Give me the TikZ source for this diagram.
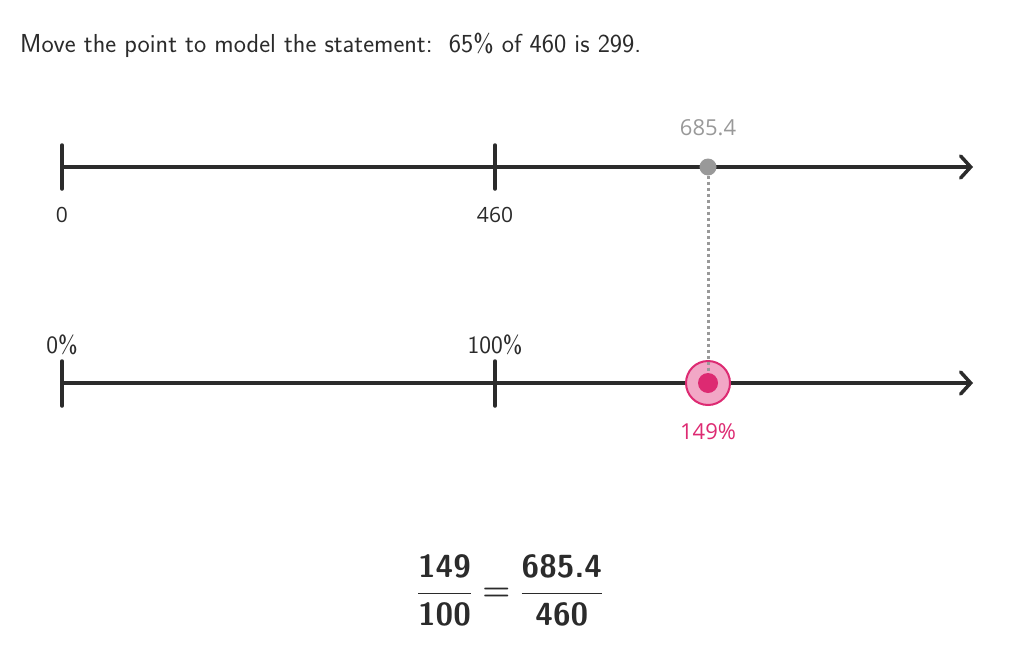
\documentclass[tikz,border=0pt]{standalone}
\usepackage{fix-cm}
\usepackage{fontspec}
\usepackage{xcolor}
\usepackage{tikz}
\usetikzlibrary{arrows.meta}
\newfontfamily\valfont{Open Sans}
\definecolor{axisgray}{HTML}{2B2B2B}
\definecolor{pointgray}{HTML}{999999}
\definecolor{pinkdark}{HTML}{DD2A72}
\definecolor{pinklight}{HTML}{F2A7C6}

\begin{document}
\begin{tikzpicture}[x=1pt, y=-1pt,
        axis/.style = {draw=axisgray, line width=3.5pt, line cap=round},
        tick/.style = {draw=axisgray, line width=3.5pt, line cap=round},
        numlabel/.style = {font=\valfont\fontsize{21}{25}\selectfont, text=axisgray, inner sep=0pt},
        pctlabel/.style = {font=\sffamily\fontsize{25}{30}\selectfont, text=axisgray, inner sep=0pt}]
                        \useasboundingbox (0, 0) rectangle (1032, 645);
                        
                        \node (title) at (20, 45) [anchor=west, inner sep=0pt, text=axisgray, font=\sffamily\fontsize{26}{31}\selectfont] {Move the point to model the statement:\ \ 65\% of 460 is 299.};
                        
                        % number line
                        \coordinate (top0) at (62, 167);
                        \coordinate (topend) at (973, 167);
                        \draw[axis, -{Straight Barb[length=10pt, width=22pt, line cap=round]}] (top0) -- (topend);
                        \draw[tick] (62, 145) -- (62, 189);
                        \draw[tick] (495, 145) -- (495, 189);
                        \node (zero) at (62, 215) [numlabel] {0};
                        \node (whole) at (495, 215) [numlabel] {460};
                        
                        % percent line
                        \coordinate (bot0) at (62, 383);
                        \coordinate (botend) at (973, 383);
                        \draw[axis, -{Straight Barb[length=10pt, width=22pt, line cap=round]}] (bot0) -- (botend);
                        \draw[tick] (62, 361) -- (62, 406);
                        \draw[tick] (495, 361) -- (495, 406);
                        \node (pzero) at (62, 345) [pctlabel] {0\%};
                        \node (phundred) at (495, 345) [pctlabel] {100\%};
                        
                        % points
                        \node (val) at (708, 167) [circle, fill=pointgray, minimum size=17pt, inner sep=0pt] {};
                        \node (pct) at (708, 383) [circle, fill=pinklight, draw=pinkdark, line width=2pt, minimum size=44pt, inner sep=0pt] {};
                        \node (pctdot) at (708, 383) [circle, fill=pinkdark, minimum size=20pt, inner sep=0pt] {};
                        \draw[pointgray, line width=3pt, dash pattern=on 3pt off 3pt] (val) -- (pctdot.north);
                        \node (vallabel) at (708, 128) [numlabel, text=pointgray, font=\valfont\fontsize{22}{26}\selectfont] {685.4};
                        \node (pctlabel) at (708, 432) [numlabel, text=pinkdark, font=\valfont\fontsize{22}{26}\selectfont] {149\%};
                        
                        % proportion
                        \node (ratio) at (510, 590) [text=axisgray, inner sep=0pt, font=\sffamily\bfseries\fontsize{32}{38}\selectfont\boldmath] {$\displaystyle\frac{\textbf{149}}{\textbf{100}} = \frac{\textbf{685.4}}{\textbf{460}}$};
                    \end{tikzpicture}
\end{document}
